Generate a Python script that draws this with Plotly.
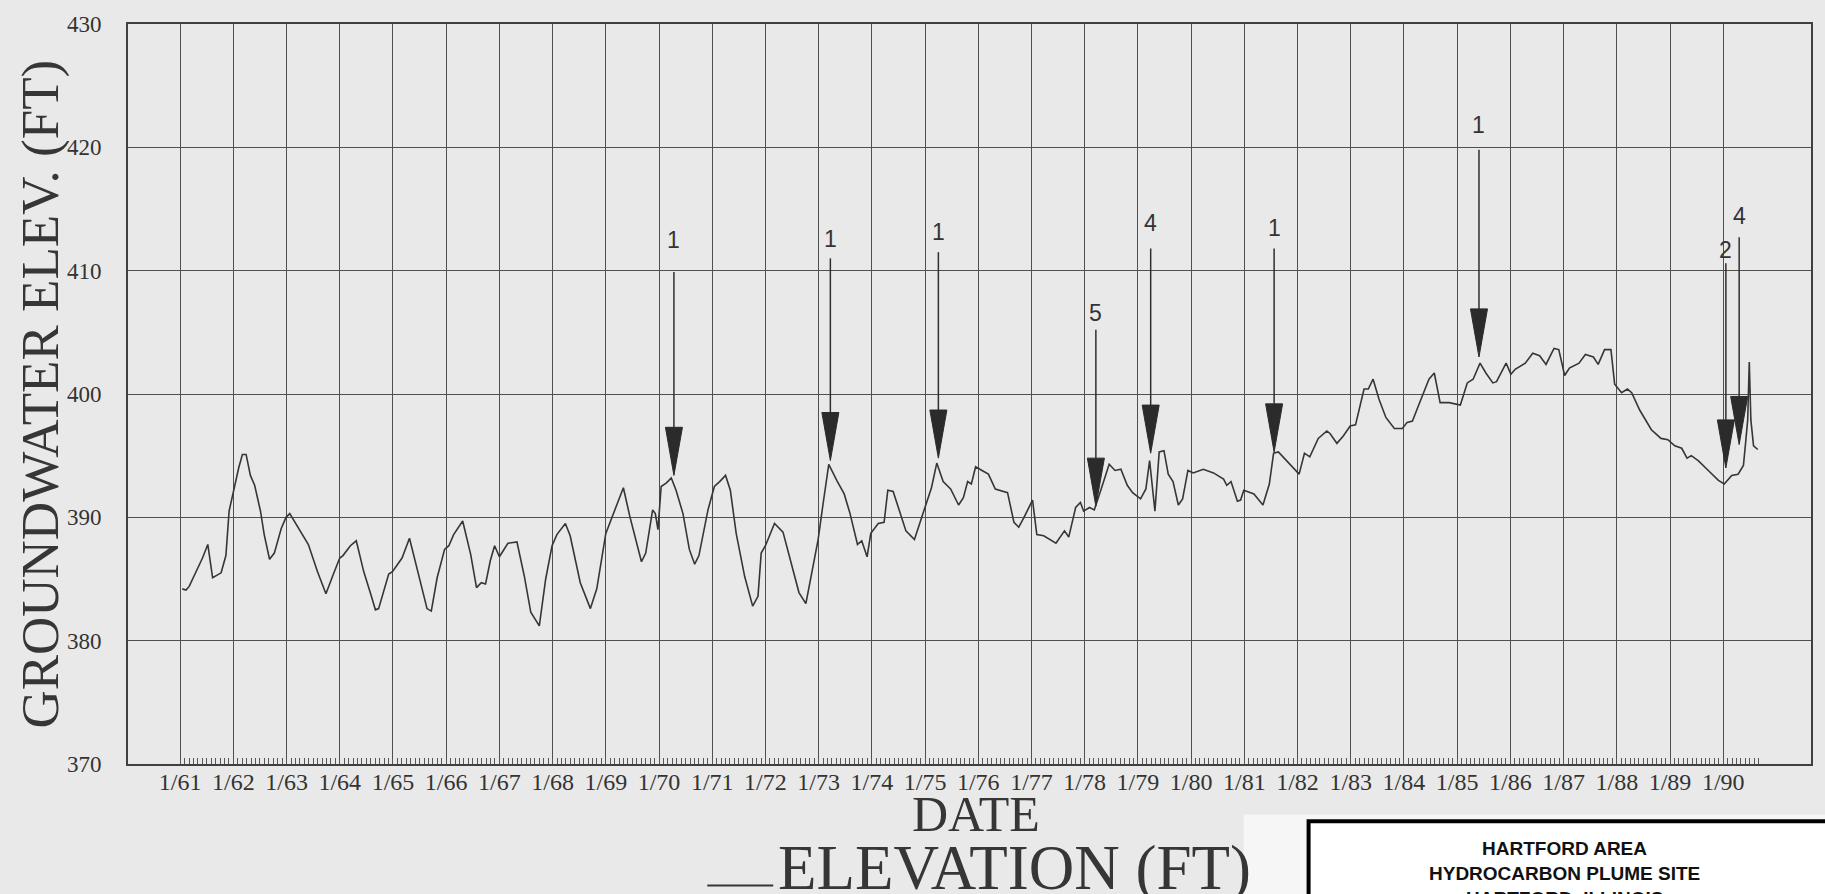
import plotly.graph_objects as go

# ---------------- data ----------------
dates = [
    1961.04, 1961.11, 1961.17, 1961.30, 1961.42, 1961.52, 1961.61, 1961.77, 1961.86, 1961.92,
    1962.00, 1962.10, 1962.17, 1962.24, 1962.32, 1962.40, 1962.51, 1962.58, 1962.68, 1962.77,
    1962.90, 1962.99, 1963.06, 1963.17, 1963.30, 1963.41, 1963.58, 1963.74, 1963.89, 1964.00,
    1964.06, 1964.20, 1964.31, 1964.45, 1964.58, 1964.67, 1964.73, 1964.92, 1964.99, 1965.17,
    1965.31, 1965.48, 1965.64, 1965.72, 1965.83, 1965.97, 1966.05, 1966.14, 1966.31, 1966.46,
    1966.57, 1966.66, 1966.74, 1966.83, 1966.91, 1967.00, 1967.16, 1967.33, 1967.47, 1967.59,
    1967.75, 1967.87, 1967.99, 1968.08, 1968.24, 1968.33, 1968.52, 1968.71, 1968.83, 1969.00,
    1969.14, 1969.33, 1969.45, 1969.67, 1969.75, 1969.88, 1969.93, 1969.98, 1970.04, 1970.14,
    1970.23, 1970.32, 1970.45, 1970.57, 1970.67, 1970.75, 1970.92, 1971.04, 1971.14, 1971.25,
    1971.34, 1971.45, 1971.61, 1971.76, 1971.86, 1971.92, 1972.00, 1972.17, 1972.33, 1972.48,
    1972.63, 1972.76, 1972.88, 1972.99, 1973.08, 1973.19, 1973.34, 1973.48, 1973.59, 1973.73,
    1973.81, 1973.91, 1973.98, 1974.12, 1974.23, 1974.30, 1974.40, 1974.52, 1974.64, 1974.80,
    1974.94, 1975.05, 1975.12, 1975.22, 1975.34, 1975.48, 1975.63, 1975.72, 1975.80, 1975.87,
    1975.95, 1976.07, 1976.19, 1976.32, 1976.45, 1976.55, 1976.67, 1976.76, 1976.86, 1976.95,
    1977.02, 1977.10, 1977.23, 1977.46, 1977.62, 1977.70, 1977.83, 1977.92, 1977.98, 1978.09,
    1978.18, 1978.31, 1978.46, 1978.57, 1978.68, 1978.80, 1978.90, 1979.05, 1979.15, 1979.22,
    1979.32, 1979.40, 1979.49, 1979.57, 1979.66, 1979.76, 1979.84, 1979.94, 1980.04, 1980.23,
    1980.42, 1980.61, 1980.67, 1980.75, 1980.87, 1980.93, 1980.99, 1981.18, 1981.35, 1981.47,
    1981.55, 1981.64, 1981.88, 1982.03, 1982.13, 1982.23, 1982.39, 1982.55, 1982.61, 1982.74,
    1982.86, 1982.99, 1983.09, 1983.25, 1983.33, 1983.42, 1983.53, 1983.66, 1983.82, 1983.97,
    1984.06, 1984.16, 1984.25, 1984.38, 1984.47, 1984.57, 1984.68, 1984.85, 1985.06, 1985.19,
    1985.30, 1985.43, 1985.54, 1985.67, 1985.74, 1985.92, 1986.01, 1986.09, 1986.28, 1986.42,
    1986.55, 1986.67, 1986.82, 1986.91, 1987.02, 1987.11, 1987.29, 1987.41, 1987.56, 1987.65,
    1987.77, 1987.89, 1987.96, 1988.09, 1988.20, 1988.28, 1988.43, 1988.65, 1988.83, 1988.96,
    1989.09, 1989.22, 1989.32, 1989.40, 1989.53, 1989.72, 1989.91, 1990.02, 1990.16, 1990.28,
    1990.38, 1990.42, 1990.46, 1990.49, 1990.52, 1990.57, 1990.65,
]
elevation = [
    384.2, 384.1, 384.4, 385.6, 386.7, 387.8, 385.1, 385.5, 386.9, 390.5,
    392.1, 394.0, 395.1, 395.1, 393.4, 392.6, 390.5, 388.6, 386.6, 387.1,
    389.1, 390.0, 390.3, 389.5, 388.6, 387.8, 385.6, 383.8, 385.5, 386.7,
    386.9, 387.7, 388.1, 385.6, 383.8, 382.5, 382.6, 385.4, 385.6, 386.7,
    388.3, 385.4, 382.6, 382.4, 385.1, 387.4, 387.7, 388.6, 389.7, 387.0,
    384.3, 384.7, 384.6, 386.5, 387.7, 386.8, 387.9, 388.0, 385.2, 382.3,
    381.2, 385.0, 387.7, 388.6, 389.5, 388.5, 384.7, 382.6, 384.2, 388.7,
    390.3, 392.4, 390.1, 386.4, 387.1, 390.6, 390.3, 389.0, 392.5, 392.8,
    393.2, 392.2, 390.3, 387.4, 386.2, 386.9, 390.6, 392.5, 392.9, 393.4,
    392.2, 388.7, 385.2, 382.8, 383.6, 387.1, 387.7, 389.5, 388.8, 386.3,
    383.9, 383.0, 385.8, 388.2, 391.0, 394.3, 393.0, 391.9, 390.3, 387.8,
    388.1, 386.8, 388.7, 389.5, 389.6, 392.2, 392.1, 390.5, 388.9, 388.2,
    390.0, 391.6, 392.4, 394.4, 392.9, 392.3, 391.0, 391.6, 392.9, 392.7,
    394.1, 393.8, 393.5, 392.3, 392.1, 392.0, 389.6, 389.2, 390.0, 390.8,
    391.4, 388.6, 388.5, 387.9, 388.9, 388.4, 390.8, 391.2, 390.5, 390.8,
    390.6, 392.3, 394.3, 393.8, 393.9, 392.6, 392.0, 391.5, 392.3, 394.6,
    390.5, 395.3, 395.4, 393.5, 392.9, 391.0, 391.5, 393.8, 393.6, 393.9,
    393.6, 393.1, 392.6, 392.9, 391.3, 391.4, 392.2, 391.9, 391.0, 392.7,
    395.2, 395.3, 394.2, 393.5, 395.2, 394.9, 396.4, 397.0, 396.8, 396.0,
    396.6, 397.4, 397.5, 400.4, 400.4, 401.2, 399.6, 398.1, 397.2, 397.2,
    397.7, 397.8, 398.8, 400.3, 401.2, 401.7, 399.3, 399.3, 399.1, 400.9,
    401.2, 402.5, 401.7, 400.9, 401.0, 402.5, 401.6, 402.0, 402.5, 403.3,
    403.1, 402.4, 403.7, 403.6, 401.5, 402.1, 402.5, 403.2, 403.0, 402.4,
    403.6, 403.6, 400.8, 400.1, 400.4, 400.1, 398.7, 397.1, 396.4, 396.3,
    395.8, 395.6, 394.8, 395.0, 394.6, 393.8, 393.0, 392.7, 393.4, 393.5,
    394.2, 396.0, 397.9, 402.6, 397.9, 395.8, 395.5,
]

# annotation arrows (event markers)
arrow_dates = [1970.28, 1973.22, 1975.25, 1978.21, 1979.24, 1981.56, 1985.41, 1990.05, 1990.30]
arrow_labels = ["1", "1", "1", "5", "4", "1", "1", "2", "4"]
arrow_tip = [393.4, 394.6, 394.8, 390.9, 395.2, 395.3, 403.0, 394.0, 395.9]
arrow_top = [409.9, 411.0, 411.5, 405.2, 411.8, 411.8, 419.8, 410.6, 412.7]
arrow_label_y = [412.5, 412.6, 413.1, 406.6, 413.9, 413.5, 421.8, 411.7, 414.4]

# axis ticks
year_ticks = list(range(1961, 1991))
year_labels = ["1/%02d" % (y % 100) for y in year_ticks]
elev_ticks = [370, 380, 390, 400, 410, 420, 430]
month_ticks = [1961 + m / 12 for m in range(0, 12 * 29 + 9)]

# ---------------- styles ----------------
INK = "#363636"
GRID = "#505050"
BG = "#e9e9e9"
SERIF = "Liberation Serif, Times New Roman, serif"
SANS = "Liberation Sans, Arial, sans-serif"
TRI_HALF_W = 0.16   # years
TRI_H = 3.9         # ft

fig = go.Figure()

fig.add_trace(go.Scatter(
    x=dates, y=elevation, mode="lines",
    line=dict(color=INK, width=1.6), hoverinfo="skip", showlegend=False,
))

# arrow shafts
sx, sy = [], []
for d, tip, top in zip(arrow_dates, arrow_tip, arrow_top):
    sx += [d, d, None]
    sy += [top, tip + TRI_H, None]
fig.add_trace(go.Scatter(x=sx, y=sy, mode="lines",
                         line=dict(color="#2f2f2f", width=1.5),
                         hoverinfo="skip", showlegend=False))

# arrow heads (filled triangles)
tx, ty = [], []
for d, tip in zip(arrow_dates, arrow_tip):
    tx += [d - TRI_HALF_W, d + TRI_HALF_W, d, d - TRI_HALF_W, None]
    ty += [tip + TRI_H, tip + TRI_H, tip, tip + TRI_H, None]
fig.add_trace(go.Scatter(x=tx, y=ty, mode="lines", fill="toself",
                         fillcolor="#2b2b2b", line=dict(color="#2b2b2b", width=1),
                         hoverinfo="skip", showlegend=False))

annotations = []
for d, lab, ly in zip(arrow_dates, arrow_labels, arrow_label_y):
    annotations.append(dict(x=d, y=ly, xref="x", yref="y", text=lab, showarrow=False,
                            font=dict(family=SANS, size=23, color="#333333"),
                            xanchor="center", yanchor="middle"))

W, H = 1825, 894
ML, MR, MT, MB = 128, 12, 15, 130
PW, PH = W - ML - MR, H - MT - MB


def px_x(xp):
    return (xp - ML) / PW


def px_y(yp):
    return (H - MB - yp) / PH


annotations += [
    dict(x=px_x(40), y=px_y(390), xref="paper", yref="paper", text="GROUNDWATER ELEV. (FT)",
         textangle=-90, showarrow=False, xanchor="center", yanchor="middle",
         font=dict(family=SERIF, size=53, color=INK)),
    dict(x=px_x(977), y=px_y(815), xref="paper", yref="paper", text="DATE",
         showarrow=False, xanchor="center", yanchor="middle", borderpad=0,
         font=dict(family=SERIF, size=50, color=INK)),
    dict(x=px_x(1016), y=px_y(869), xref="paper", yref="paper", text="ELEVATION (FT)",
         showarrow=False, xanchor="center", yanchor="middle", borderpad=0,
         font=dict(family=SERIF, size=63, color=INK)),
    dict(x=px_x(1566), y=px_y(850), xref="paper", yref="paper", text="<b>HARTFORD AREA</b>",
         showarrow=False, xanchor="center", yanchor="middle",
         font=dict(family=SANS, size=19, color="#111111")),
    dict(x=px_x(1566), y=px_y(875), xref="paper", yref="paper", text="<b>HYDROCARBON PLUME SITE</b>",
         showarrow=False, xanchor="center", yanchor="middle",
         font=dict(family=SANS, size=19, color="#111111")),
    dict(x=px_x(1566), y=px_y(900), xref="paper", yref="paper", text="<b>HARTFORD, ILLINOIS</b>",
         showarrow=False, xanchor="center", yanchor="middle",
         font=dict(family=SANS, size=19, color="#111111")),
]

shapes = [
    dict(type="rect", xref="paper", yref="paper", x0=px_x(1245), x1=px_x(1900),
         y0=px_y(1000), y1=px_y(815), fillcolor="#f6f6f6", line=dict(width=0), layer="below"),
    dict(type="rect", xref="paper", yref="paper", x0=px_x(1310), x1=px_x(1900),
         y0=px_y(1000), y1=px_y(822), fillcolor="#ffffff", line=dict(color="#000000", width=4)),
    # legend sample line for the ELEVATION series
    dict(type="line", xref="paper", yref="paper", x0=px_x(708), x1=px_x(774),
         y0=px_y(887), y1=px_y(887), line=dict(color=INK, width=2.2)),
]

fig.update_layout(
    width=W, height=H,
    margin=dict(l=ML, r=MR, t=MT, b=MB, pad=0),
    paper_bgcolor=BG, plot_bgcolor=BG,
    showlegend=False,
    annotations=annotations, shapes=shapes,
    xaxis=dict(
        range=[1960.02, 1991.65], tickmode="array", tickvals=year_ticks, ticktext=year_labels,
        showgrid=True, gridcolor=GRID, gridwidth=1.2, zeroline=False,
        showline=True, mirror=True, linecolor="#404040", linewidth=1.6,
        ticks="", ticklabelstandoff=-5,
        tickfont=dict(family=SERIF, size=24, color="#333333"),
        minor=dict(tickmode="array", tickvals=month_ticks, ticks="inside", ticklen=6,
                   tickwidth=1, tickcolor="#555555", showgrid=False),
    ),
    yaxis=dict(
        range=[370, 430], tickmode="array", tickvals=elev_ticks,
        showgrid=True, gridcolor=GRID, gridwidth=1.2, zeroline=False,
        showline=True, mirror=True, linecolor="#404040", linewidth=1.6,
        ticks="", ticklabelstandoff=20,
        tickfont=dict(family=SERIF, size=23, color="#333333"),
    ),
)

fig.write_html("out.html")
